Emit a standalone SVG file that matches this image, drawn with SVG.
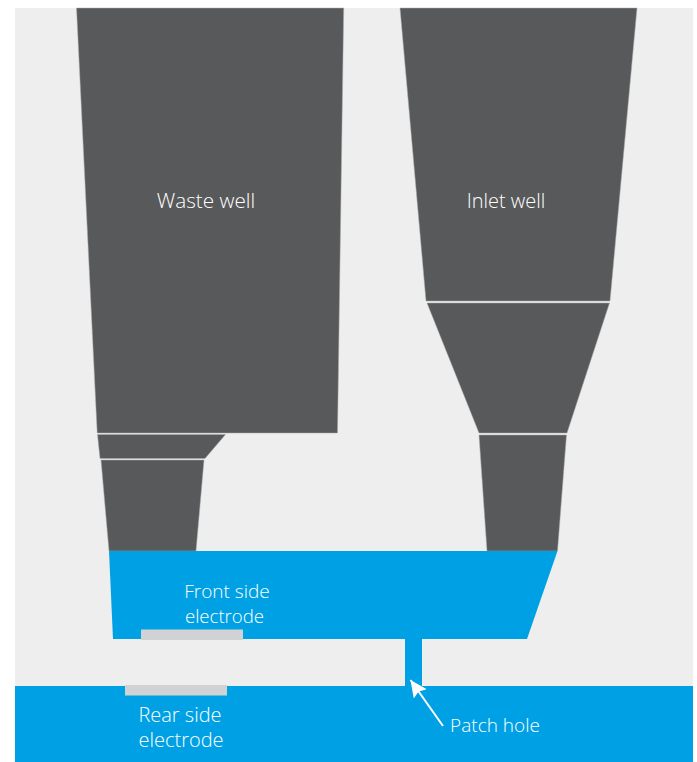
<svg xmlns="http://www.w3.org/2000/svg" width="697" height="762" viewBox="0 0 697 762">
<style>
.well{fill:#58595b;stroke:#a9aaab;stroke-width:.5}
.blue{fill:#00a1e4}
.el{fill:#d1d2d4}
text{font-family:"Open Sans","Liberation Sans",sans-serif;font-weight:300;font-size:19px;fill:#fff;text-anchor:middle}
</style>
<defs><marker id="ah" markerUnits="userSpaceOnUse" markerWidth="20" markerHeight="20" refX="17" refY="8" orient="auto"><path d="M0 0L17 8L0 16L3 8Z" fill="#fff"/></marker></defs>
<rect id="background" x="15" y="8" width="678" height="678" fill="#eeeeee"/>
<g id="waste-well">
<polygon class="well" points="76.500,8 343.700,8 337.500,433 97.200,433"/>
<polygon class="well" points="97.500,434.500 225.500,434.500 205,458.500 100,458.500"/>
<polygon class="well" points="101,460 204,460 196,551 109,551"/>
<text x="206" y="208" style="font-size:20.700px">Waste well</text>
</g>
<g id="inlet-well">
<polygon class="well" points="400,8 637,8 610,301 426,301"/>
<polygon class="well" points="427,303 609.500,303 567,433 479,433"/>
<polygon class="well" points="479,435 566.500,435 557.500,551 487,551"/>
<text x="506" y="207.500" style="font-size:20px">Inlet well</text>
</g>
<g id="front-channel">
<polygon class="blue" points="109,551 557.500,551 527,639 113,639"/>
<text x="227" y="598">Front side</text>
<text x="224.500" y="623" style="font-size:18.600px">electrode</text>
</g>
<rect id="patch-channel" class="blue" x="405" y="639" width="17" height="48"/>
<g id="rear-channel">
<rect class="blue" x="15" y="686" width="678" height="76"/>
<text x="180" y="722" style="font-size:20px">Rear side</text>
<text x="181" y="747" style="font-size:20px">electrode</text>
</g>
<rect id="front-electrode" class="el" x="141" y="629.500" width="102" height="10.500"/>
<rect id="rear-electrode" class="el" x="125" y="685" width="102" height="10.500"/>
<g id="connectors">
<line x1="443" y1="726" x2="410.500" y2="680" stroke="#fff" stroke-width="2" marker-end="url(#ah)"/>
</g>
<g id="patch-hole-label"><text x="495" y="732">Patch hole</text></g>
</svg>
